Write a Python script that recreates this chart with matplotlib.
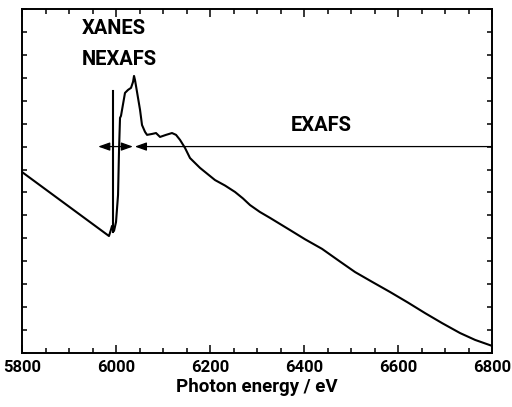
import matplotlib.pyplot as plt
from matplotlib.ticker import MultipleLocator

plt.rcParams['font.family'] = ['Roboto', 'DejaVu Sans']
plt.rcParams['font.weight'] = 'bold'

# spectrum (photon energy in eV, absorption in arbitrary units)
energia = [5800, 5985, 5989, 5991.5, 5995.7, 6000, 6004.3, 6006.4, 6008.5, 6010.6,
           6012.8, 6019.1, 6025.5, 6031.9, 6036.2, 6038.3, 6040.4, 6044.7, 6051.1,
           6055.3, 6061.7, 6066, 6076.6, 6085.1, 6093.6, 6106.4, 6119.1, 6127.7,
           6136.2, 6146.8, 6157.4, 6178.7, 6210.6, 6232, 6253.2, 6270, 6285.1, 6306,
           6327.7, 6370.2, 6402, 6438.3, 6477, 6508.5, 6545, 6583, 6621, 6657.4,
           6694, 6731.9, 6764, 6800]
absorcao = [7.89, 5.10, 5.36, 5.54, 5.32, 5.71, 6.89, 8.85, 10.25, 10.34,
            10.60, 11.34, 11.47, 11.56, 11.82, 12.08, 11.90, 11.38, 10.60,
            9.94, 9.64, 9.51, 9.55, 9.59, 9.42, 9.51, 9.59, 9.51,
            9.29, 8.94, 8.50, 8.07, 7.54, 7.30, 7.02, 6.74, 6.45, 6.15,
            5.89, 5.36, 4.96, 4.54, 3.98, 3.53, 3.10, 2.66, 2.20, 1.74,
            1.30, 0.87, 0.57, 0.31]

borda_x = 5994
borda_y = [5.28, 11.43]

seta_y = 9.0
xanes_lim = [5962, 6036]
exafs_lim = [6040, 6800]

fig = plt.figure(figsize=(5.12, 4.07), dpi=100)
ax = fig.add_axes([0.043, 0.1327, 0.918, 0.8453])

ax.plot(energia, absorcao, color="black", lw=1.5)
ax.plot([borda_x, borda_x], borda_y, color="black", lw=1.5)

# XANES double arrow
ax.annotate("", xy=(xanes_lim[0], seta_y), xytext=(xanes_lim[1], seta_y),
            arrowprops=dict(arrowstyle="<|-|>,head_length=0.7,head_width=0.25",
                            color="black", lw=0.9, shrinkA=0, shrinkB=0))
# EXAFS arrow
ax.annotate("", xy=(exafs_lim[0], seta_y), xytext=(exafs_lim[1], seta_y),
            arrowprops=dict(arrowstyle="-|>,head_length=0.7,head_width=0.25",
                            color="black", lw=0.9, shrinkA=0, shrinkB=0))

ax.text(5996, 14.13, "XANES", ha="center", va="center", fontsize=14.5, fontweight="bold")
ax.text(6008, 12.78, "NEXAFS", ha="center", va="center", fontsize=14.5, fontweight="bold")
ax.text(6436, 9.94, "EXAFS", ha="center", va="center", fontsize=14.5, fontweight="bold")

ax.set_xlim(5800, 6800)
ax.set_ylim(0, 15)
ax.xaxis.set_major_locator(MultipleLocator(200))
ax.xaxis.set_minor_locator(MultipleLocator(50))
ax.yaxis.set_major_locator(MultipleLocator(1))
ax.tick_params(axis="both", which="both", direction="in", top=True, right=True, width=1.1)
ax.tick_params(axis="x", which="major", length=6, labelsize=12, pad=5)
ax.tick_params(axis="x", which="minor", length=3.5)
ax.tick_params(axis="y", which="major", length=3.5, labelleft=False)
for s in ax.spines.values():
    s.set_linewidth(1.4)
ax.set_xlabel("Photon energy / eV", fontsize=13.5, fontweight="bold", labelpad=2)

plt.savefig("out.png", dpi=100)
